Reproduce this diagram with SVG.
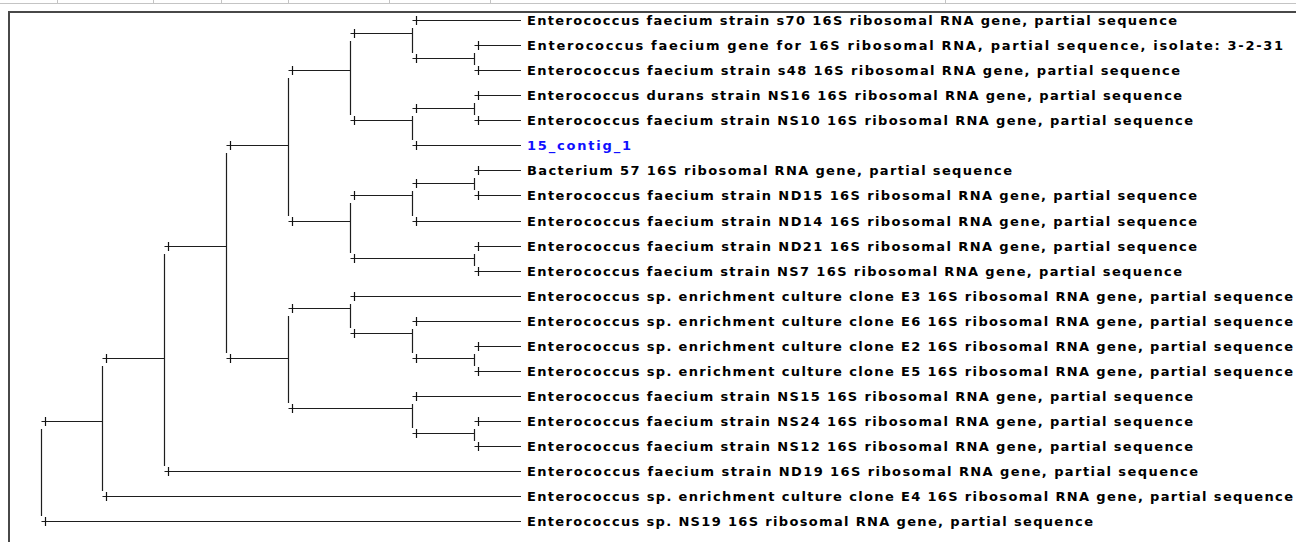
<svg xmlns="http://www.w3.org/2000/svg" width="1296" height="542" viewBox="0 0 1296 542">
<style>
.c{fill:none;stroke:#1e1e1e;stroke-width:1.2}
.t{fill:none;stroke:#111;stroke-width:1.2}
.lbl{font-family:"DejaVu Sans","Liberation Sans",sans-serif;font-weight:bold;font-size:13px;fill:#000}
.q{fill:#1010ff}
.hd{stroke:#c4c4c4;stroke-width:1;fill:none}
.fr{stroke:#484848;stroke-width:2;fill:none}
</style>
<rect x="0" y="0" width="1296" height="542" fill="#fff"/>
<g id="header">
<path class="hd" d="M0 3.5H1296M57.5 0V3M153.5 0V3M221.5 0V3M288.5 0V3M389.5 0V3M490.5 0V3M945.5 0V3"/>
</g>
<g id="frame">
<path class="fr" d="M9 542V12H1296"/>
</g>
<g id="connectors">
<path class="c" d="M41.5 429V516M41.5 421.5H102.5M41.5 521.5H521"/>
<path class="c" d="M102.5 366V491M102.5 358.5H164.5M102.5 496.5H521"/>
<path class="c" d="M164.5 254V466M164.5 246.5H226.5M164.5 471.5H521"/>
<path class="c" d="M226.5 153V353M226.5 145.5H288.5M226.5 358.5H288.5"/>
<path class="c" d="M288.5 78V216M288.5 70.5H350.5M288.5 221.5H350.5"/>
<path class="c" d="M350.5 41V115M350.5 33.5H412.5M350.5 120.5H412.5"/>
<path class="c" d="M412.5 28V53M412.5 20.5H521M412.5 58.5H474.5"/>
<path class="c" d="M474.5 53V65M474.5 45.5H521M474.5 70.5H521"/>
<path class="c" d="M412.5 116V140M412.5 108.5H474.5M412.5 145.5H521"/>
<path class="c" d="M474.5 103V115M474.5 95.5H521M474.5 120.5H521"/>
<path class="c" d="M350.5 203V253M350.5 195.5H412.5M350.5 258.5H474.5"/>
<path class="c" d="M412.5 191V216M412.5 183.5H474.5M412.5 221.5H521"/>
<path class="c" d="M474.5 178V190M474.5 170.5H521M474.5 195.5H521"/>
<path class="c" d="M474.5 254V266M474.5 246.5H521M474.5 271.5H521"/>
<path class="c" d="M288.5 316V403M288.5 308.5H350.5M288.5 408.5H412.5"/>
<path class="c" d="M350.5 304V328M350.5 296.5H521M350.5 333.5H412.5"/>
<path class="c" d="M412.5 329V353M412.5 321.5H521M412.5 358.5H474.5"/>
<path class="c" d="M474.5 354V366M474.5 346.5H521M474.5 371.5H521"/>
<path class="c" d="M412.5 404V428M412.5 396.5H521M412.5 433.5H474.5"/>
<path class="c" d="M474.5 429V441M474.5 421.5H521M474.5 446.5H521"/>
</g>
<g id="node-C"><path class="t" d="M45.5 417v9"/></g>
<g id="node-D"><path class="t" d="M106.5 354v9"/></g>
<g id="node-M"><path class="t" d="M168.5 242v9"/></g>
<g id="node-N"><path class="t" d="M230.5 141v9"/></g>
<g id="node-O"><path class="t" d="M230.5 354v9"/></g>
<g id="node-G"><path class="t" d="M292.5 66v9"/></g>
<g id="node-K"><path class="t" d="M292.5 217v9"/></g>
<g id="node-A"><path class="t" d="M354.5 29v9"/></g>
<g id="node-F"><path class="t" d="M354.5 116v9"/></g>
<g id="node-B"><path class="t" d="M416.5 54v9"/></g>
<g id="node-E"><path class="t" d="M416.5 104v9"/></g>
<g id="node-I"><path class="t" d="M354.5 191v9"/></g>
<g id="node-H"><path class="t" d="M416.5 179v9"/></g>
<g id="node-J"><path class="t" d="M354.5 254v9"/></g>
<g id="node-P"><path class="t" d="M292.5 304v9"/></g>
<g id="node-R"><path class="t" d="M354.5 329v9"/></g>
<g id="node-S"><path class="t" d="M416.5 354v9"/></g>
<g id="node-Q"><path class="t" d="M292.5 404v9"/></g>
<g id="node-T"><path class="t" d="M416.5 429v9"/></g>
<g id="leaf-0"><path class="t" d="M416.5 16v9"/><text class="lbl" x="527" y="25" textLength="650" lengthAdjust="spacing">Enterococcus faecium strain s70 16S ribosomal RNA gene, partial sequence</text></g>
<g id="leaf-1"><path class="t" d="M478.5 41v9"/><text class="lbl" x="527" y="50" textLength="756" lengthAdjust="spacing">Enterococcus faecium gene for 16S ribosomal RNA, partial sequence, isolate: 3-2-31</text></g>
<g id="leaf-2"><path class="t" d="M478.5 66v9"/><text class="lbl" x="527" y="75" textLength="653" lengthAdjust="spacing">Enterococcus faecium strain s48 16S ribosomal RNA gene, partial sequence</text></g>
<g id="leaf-3"><path class="t" d="M478.5 91v9"/><text class="lbl" x="527" y="100" textLength="655" lengthAdjust="spacing">Enterococcus durans strain NS16 16S ribosomal RNA gene, partial sequence</text></g>
<g id="leaf-4"><path class="t" d="M478.5 116v9"/><text class="lbl" x="527" y="125" textLength="666" lengthAdjust="spacing">Enterococcus faecium strain NS10 16S ribosomal RNA gene, partial sequence</text></g>
<g id="leaf-5"><path class="t" d="M416.5 141v9"/><text class="lbl q" x="527" y="150" textLength="104" lengthAdjust="spacing">15_contig_1</text></g>
<g id="leaf-6"><path class="t" d="M478.5 166v9"/><text class="lbl" x="527" y="175" textLength="485" lengthAdjust="spacing">Bacterium 57 16S ribosomal RNA gene, partial sequence</text></g>
<g id="leaf-7"><path class="t" d="M478.5 191v9"/><text class="lbl" x="527" y="200" textLength="670" lengthAdjust="spacing">Enterococcus faecium strain ND15 16S ribosomal RNA gene, partial sequence</text></g>
<g id="leaf-8"><path class="t" d="M416.5 217v9"/><text class="lbl" x="527" y="226" textLength="670" lengthAdjust="spacing">Enterococcus faecium strain ND14 16S ribosomal RNA gene, partial sequence</text></g>
<g id="leaf-9"><path class="t" d="M478.5 242v9"/><text class="lbl" x="527" y="251" textLength="670" lengthAdjust="spacing">Enterococcus faecium strain ND21 16S ribosomal RNA gene, partial sequence</text></g>
<g id="leaf-10"><path class="t" d="M478.5 267v9"/><text class="lbl" x="527" y="276" textLength="655" lengthAdjust="spacing">Enterococcus faecium strain NS7 16S ribosomal RNA gene, partial sequence</text></g>
<g id="leaf-11"><path class="t" d="M354.5 292v9"/><text class="lbl" x="527" y="301" textLength="766" lengthAdjust="spacing">Enterococcus sp. enrichment culture clone E3 16S ribosomal RNA gene, partial sequence</text></g>
<g id="leaf-12"><path class="t" d="M416.5 317v9"/><text class="lbl" x="527" y="326" textLength="766" lengthAdjust="spacing">Enterococcus sp. enrichment culture clone E6 16S ribosomal RNA gene, partial sequence</text></g>
<g id="leaf-13"><path class="t" d="M478.5 342v9"/><text class="lbl" x="527" y="351" textLength="766" lengthAdjust="spacing">Enterococcus sp. enrichment culture clone E2 16S ribosomal RNA gene, partial sequence</text></g>
<g id="leaf-14"><path class="t" d="M478.5 367v9"/><text class="lbl" x="527" y="376" textLength="766" lengthAdjust="spacing">Enterococcus sp. enrichment culture clone E5 16S ribosomal RNA gene, partial sequence</text></g>
<g id="leaf-15"><path class="t" d="M416.5 392v9"/><text class="lbl" x="527" y="401" textLength="666" lengthAdjust="spacing">Enterococcus faecium strain NS15 16S ribosomal RNA gene, partial sequence</text></g>
<g id="leaf-16"><path class="t" d="M478.5 417v9"/><text class="lbl" x="527" y="426" textLength="666" lengthAdjust="spacing">Enterococcus faecium strain NS24 16S ribosomal RNA gene, partial sequence</text></g>
<g id="leaf-17"><path class="t" d="M478.5 442v9"/><text class="lbl" x="527" y="451" textLength="666" lengthAdjust="spacing">Enterococcus faecium strain NS12 16S ribosomal RNA gene, partial sequence</text></g>
<g id="leaf-18"><path class="t" d="M168.5 467v9"/><text class="lbl" x="527" y="476" textLength="671" lengthAdjust="spacing">Enterococcus faecium strain ND19 16S ribosomal RNA gene, partial sequence</text></g>
<g id="leaf-19"><path class="t" d="M106.5 492v9"/><text class="lbl" x="527" y="501" textLength="766" lengthAdjust="spacing">Enterococcus sp. enrichment culture clone E4 16S ribosomal RNA gene, partial sequence</text></g>
<g id="leaf-20"><path class="t" d="M45.5 517v9"/><text class="lbl" x="527" y="526" textLength="566" lengthAdjust="spacing">Enterococcus sp. NS19 16S ribosomal RNA gene, partial sequence</text></g>
</svg>
